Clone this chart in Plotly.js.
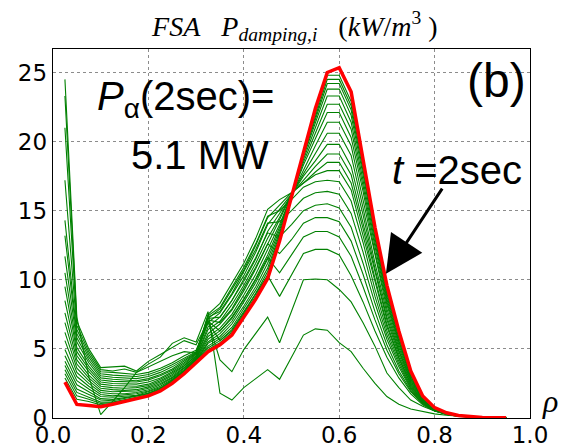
<!DOCTYPE html>
<html>
<head>
<meta charset="utf-8">
<script src="https://cdn.plot.ly/plotly-3.0.1.min.js"></script>
<style>html,body{margin:0;padding:0;background:#fff;}#chart{width:561px;height:445px;}</style>
</head>
<body>
<div id="chart"></div>
<script>
// radial grid (rho)
const rho = [0.025,0.05,0.075,0.1,0.125,0.15,0.175,0.2,0.225,0.25,0.275,0.3,0.325,0.35,0.375,0.4,0.425,0.45,0.475,0.5,0.525,0.55,0.575,0.6,0.625,0.65,0.675,0.7,0.725,0.75,0.775,0.8,0.825,0.85,0.875,0.9,0.925,0.95];

// intermediate time profiles (green), earliest first
const p01 = [24.5,7.3,3.0,0.25, 1.2,2.2,3.3,3.9,4.4,5.4,5.8,5.5, 7.7,1.8,1.3,2.2,2.85,3.5,2.8,4.4,6.0,6.45,6.35,5.45, 4.8,3.6,2.5,1.55,1.0,0.65,0.45,0.3,0.2,0.12,0.07,0.04,0.02,0.01];
const p02 = [23.3,7.0,5.0,3.65, 3.7,3.75,3.4,4.1,4.6,5.1,5.6,5.3, 7.0,4.2,3.35,4.95,6.1,7.3,5.45,7.8,10.0,10.06,10.0,9.3, 8.4,6.9,5.2,3.25,2.2,1.3,0.85,0.5,0.3,0.17,0.09,0.05,0.03,0.01];
const p03 = [21.0,6.7,4.8,3.5, 3.4,3.55,3.3,3.7,4.1,4.5,4.8,4.7, 6.9,5.6,6.3,7.6,9.0,10.3,8.8,10.4,11.9,12.2,12.2,11.8, 10.3,8.4,6.3,4.4,2.9,1.75,0.95,0.5,0.25,0.12,0.06,0.03,0.02,0.01];
const p04 = [17.2,6.4,4.6,3.35, 3.3,3.2,3.15,3.3,3.6,4.0,4.5,4.9, 7.0,6.3,7.2,8.6,10.0,11.6,10.5,11.8,13.1,13.5,13.5,13.1, 11.7,9.5,7.1,4.9,3.2,1.9,1.0,0.52,0.26,0.13,0.06,0.03,0.02,0.01];
const p05 = [14.3,6.1,4.4,3.2, 3.1,3.05,3.0,3.15,3.45,3.85,4.35,4.8, 7.1,6.9,7.9,9.4,10.9,12.6,11.9,12.9,14.1,14.5,14.5,14.2, 12.8,10.4,7.7,5.3,3.4,2.0,1.05,0.53,0.27,0.13,0.06,0.03,0.02,0.01];
const p06 = [13.2,5.8,4.2,3.05, 2.95,2.9,2.85,3.0,3.3,3.7,4.2,4.75, 7.2,7.3,8.5,10.0,11.6,13.4,13.1,14.0,15.0,15.4,15.5,15.2, 13.8,11.2,8.3,5.7,3.7,2.1,1.1,0.55,0.28,0.14,0.07,0.03,0.02,0.01];
const p07 = [11.7,5.5,4.0,2.9, 2.8,2.75,2.7,2.85,3.15,3.55,4.1,4.7, 7.3,7.7,9.0,10.6,12.2,14.1,14.2,15.0,15.9,16.3,16.4,16.2, 14.8,12.0,8.8,6.0,3.9,2.2,1.15,0.57,0.29,0.14,0.07,0.03,0.02,0.01];
const p08 = [10.5,5.1,3.75,2.75, 2.65,2.6,2.6,2.75,3.05,3.45,4.0,4.65, 7.4,8.0,9.4,10.9,12.6,14.6,15.0,15.8,16.7,17.1,17.2,17.1, 15.7,12.7,9.3,6.3,4.1,2.3,1.2,0.58,0.29,0.14,0.07,0.04,0.02,0.01];
const p09 = [9.5,4.8,3.55,2.6, 2.5,2.45,2.45,2.6,2.9,3.35,3.9,4.6, 7.5,8.3,9.7,11.2,13.0,15.1,15.8,16.3,17.0,17.6,17.9,17.9, 16.5,13.2,9.8,6.6,4.3,2.4,1.2,0.6,0.3,0.15,0.07,0.04,0.02,0.01];
const p10 = [8.5,4.5,3.35,2.45, 2.35,2.3,2.3,2.45,2.8,3.25,3.8,4.5, 7.2,7.9,9.3,10.7,12.5,14.5,15.4,16.3,17.0,17.8,18.5,18.5, 17.0,13.7,10.1,6.8,4.4,2.5,1.25,0.62,0.31,0.15,0.07,0.04,0.02,0.01];
const p11 = [7.6,4.2,3.1,2.3, 2.2,2.15,2.2,2.35,2.7,3.15,3.75,4.5, 6.9,7.6,8.9,10.3,12.0,14.0,15.1,16.2,17.2,18.2,19.1,19.1, 17.6,14.1,10.4,7.1,4.6,2.6,1.3,0.64,0.32,0.16,0.08,0.04,0.02,0.01];
const p12 = [6.9,3.9,2.9,2.15, 2.05,2.0,2.05,2.25,2.6,3.05,3.65,4.4, 6.6,7.3,8.5,9.9,11.5,13.5,14.8,16.2,17.5,18.6,19.8,19.8, 18.2,14.7,10.8,7.3,4.8,2.7,1.35,0.66,0.33,0.16,0.08,0.04,0.02,0.01];
const p13 = [6.2,3.6,2.7,2.0, 1.9,1.9,1.95,2.15,2.5,2.95,3.6,4.35, 6.4,7.0,8.2,9.6,11.2,13.0,14.5,16.2,17.7,19.2,20.6,20.6, 19.0,15.2,11.2,7.6,4.9,2.8,1.4,0.68,0.34,0.17,0.08,0.04,0.02,0.01];
const p14 = [5.6,3.3,2.5,1.85, 1.75,1.75,1.85,2.05,2.4,2.9,3.5,4.3, 6.1,6.8,7.8,9.2,10.8,12.6,14.3,16.15,18.0,19.7,21.4,21.4, 19.7,15.8,11.7,7.9,5.1,2.9,1.45,0.7,0.35,0.17,0.08,0.04,0.02,0.01];
const p15 = [4.95,3.0,2.3,1.7, 1.6,1.65,1.75,1.95,2.3,2.8,3.45,4.25, 5.9,6.5,7.5,8.9,10.4,12.2,14.0,16.1,18.3,20.2,22.1,22.1, 20.3,16.4,12.0,8.2,5.3,3.0,1.5,0.72,0.36,0.17,0.08,0.04,0.02,0.01];
const p16 = [4.5,2.7,2.1,1.55, 1.5,1.55,1.65,1.9,2.2,2.75,3.4,4.2, 5.7,6.3,7.3,8.6,10.1,11.8,13.8,16.1,18.5,20.6,22.7,22.7, 20.9,16.8,12.4,8.4,5.5,3.1,1.52,0.73,0.36,0.17,0.08,0.04,0.02,0.01];
const p17 = [4.1,2.4,1.9,1.4, 1.35,1.45,1.6,1.8,2.15,2.7,3.35,4.15, 5.5,6.1,7.0,8.4,9.8,11.5,13.6,16.1,18.7,21.0,23.3,23.3, 21.4,17.2,12.7,8.6,5.6,3.15,1.55,0.74,0.37,0.18,0.08,0.04,0.02,0.01];
const p18 = [3.8,2.1,1.7,1.3, 1.25,1.4,1.55,1.75,2.1,2.65,3.3,4.1, 5.4,5.9,6.8,8.1,9.5,11.2,13.4,16.05,18.9,21.4,23.8,23.8, 21.9,17.6,13.0,8.8,5.8,3.2,1.57,0.74,0.37,0.18,0.08,0.04,0.02,0.01];
const p19 = [3.5,1.85,1.5,1.15, 1.15,1.3,1.5,1.7,2.05,2.6,3.3,4.1, 5.2,5.75,6.55,7.9,9.25,10.85,13.25,16.05,19.0,21.6,24.2,24.2, 22.3,17.9,13.2,9.0,5.9,3.25,1.58,0.75,0.37,0.18,0.08,0.04,0.02,0.01];
const p20 = [3.2,1.6,1.35,1.05, 1.1,1.25,1.45,1.65,2.0,2.55,3.25,4.06, 5.07,5.6,6.4,7.7,9.0,10.6,13.1,16.03,19.1,21.8,24.5,24.5, 22.6,18.2,13.4,9.2,6.0,3.3,1.59,0.75,0.38,0.18,0.08,0.04,0.02,0.01];
const p21 = [2.9,1.35,1.2,0.95, 1.05,1.22,1.4,1.62,1.97,2.52,3.22,4.03, 4.95,5.45,6.2,7.5,8.8,10.35,12.95,16.0,19.2,22.0,24.8,24.8, 22.9,18.4,13.6,9.4,6.1,3.35,1.6,0.75,0.38,0.18,0.08,0.04,0.02,0.01];

// final profile t = 2 sec (red)
const pFinal = [2.6,0.98,0.9,0.82, 1.0,1.2,1.38,1.6,1.95,2.5,3.2,4.0, 4.8,5.3,6.0,7.3,8.6,10.1,12.8,16.0,19.3,22.4,25.0,25.35, 23.6,18.7,13.8,9.6,6.3,3.4,1.6,0.75,0.38,0.18,0.08,0.04,0.02,0.01];

const xTicks = [0,0.2,0.4,0.6,0.8,1.0];
const xTickText = ['0.0','0.2','0.4','0.6','0.8','1.0'];
const yTicks = [0,5,10,15,20,25];
const yTickText = ['0','5','10','15','20','25'];

const greens = [p01,p02,p03,p04,p05,p06,p07,p08,p09,p10,p11,p12,p13,p14,p15,p16,p17,p18,p19,p20,p21];

const traces = greens.map(p => ({
  x: rho, y: p, type: 'scatter', mode: 'lines',
  line: {color: '#008000', width: 1.1}, hoverinfo: 'skip'
}));
traces.push({x: rho, y: pFinal, type: 'scatter', mode: 'lines',
  line: {color: '#ff0000', width: 3.5}, hoverinfo: 'skip'});

const tickFont = {family: 'DejaVu Sans', size: 23, color: '#000'};
const bigFont = {family: 'Liberation Sans, Arial', size: 40, color: '#000'};

const layout = {
  width: 561, height: 445,
  margin: {l: 53, r: 31, t: 49, b: 27, pad: 0},
  paper_bgcolor: '#fff', plot_bgcolor: '#fff',
  showlegend: false,
  title: {
    text: '<i>FSA</i>\u00a0\u00a0\u00a0<i>P</i><sub><i>damping,i</i></sub>\u00a0\u00a0\u00a0(<i>kW</i>/<i>m</i><sup>3</sup>\u00a0)',
    font: {family: 'Liberation Serif, Times New Roman, serif', size: 28, color: '#000'},
    x: 0.507, xref: 'paper', xanchor: 'center',
    y: 0.942, yref: 'container', yanchor: 'middle'
  },
  xaxis: {
    range: [0, 1], tickvals: xTicks, ticktext: xTickText, tickfont: tickFont,
    showline: true, mirror: true, linecolor: '#000', linewidth: 1.3,
    showgrid: true, gridcolor: '#8c8c8c', griddash: 'dot', gridwidth: 1,
    zeroline: false, ticks: '', fixedrange: true, ticklabelstandoff: -4
  },
  yaxis: {
    range: [0, 26.7], tickvals: yTicks, ticktext: yTickText, tickfont: tickFont,
    showline: true, mirror: true, linecolor: '#000', linewidth: 1.3,
    showgrid: true, gridcolor: '#8c8c8c', griddash: 'dot', gridwidth: 1,
    zeroline: false, ticks: '', fixedrange: true
  },
  annotations: [
    {xref: 'paper', yref: 'paper', x: 0.088, y: 0.865, xanchor: 'left', yanchor: 'middle',
     text: '<i>P</i><sub>\u03b1</sub>(2sec)=', showarrow: false, font: bigFont},
    {xref: 'paper', yref: 'paper', x: 0.159, y: 0.713, xanchor: 'left', yanchor: 'middle',
     text: '5.1 MW', showarrow: false, font: bigFont},
    {xref: 'paper', yref: 'paper', x: 0.7065, y: 0.672, xanchor: 'left', yanchor: 'middle',
     text: '<i>t</i> =2sec', showarrow: false, font: bigFont},
    {xref: 'paper', yref: 'paper', x: 0.996, y: 0.915, xanchor: 'right', yanchor: 'middle',
     text: '(b)', showarrow: false, font: {family: 'Liberation Sans, Arial', size: 48, color: '#000'}},
    {xref: 'paper', yref: 'paper', x: 1.042, y: 0.045, xanchor: 'center', yanchor: 'middle',
     text: '<i>\u03c1</i>', showarrow: false,
     font: {family: 'Liberation Serif, Times New Roman, serif', size: 32, color: '#000'}},
    {xref: 'x', yref: 'y', x: 0.698, y: 10.44, axref: 'x', ayref: 'y', ax: 0.818, ay: 16.7,
     text: '', showarrow: true, arrowhead: 2, arrowsize: 2.5, arrowwidth: 3, arrowcolor: '#000', standoff: 0}
  ]
};

Plotly.newPlot('chart', traces, layout, {staticPlot: true, displayModeBar: false});
</script>
</body>
</html>
